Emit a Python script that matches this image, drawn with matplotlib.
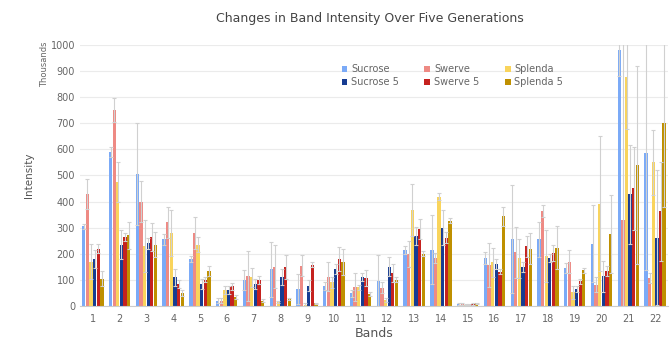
import numpy as np
import matplotlib.pyplot as plt

bands = list(range(1, 23))
series = ['Sucrose', 'Swerve', 'Splenda', 'Sucrose 5', 'Swerve 5', 'Splenda 5']
colors = ['#7baaf7', '#ee8a84', '#f9d45c', '#173c92', '#c5221f', '#bf9000']

sucrose = [305, 590, 505, 255, 180, 20, 100, 140, 65, 75, 48, 97, 213, 215, 8, 183, 258, 255, 145, 238, 980, 587]
swerve = [430, 750, 400, 320, 280, 20, 115, 150, 155, 112, 72, 70, 200, 183, 6, 158, 206, 363, 169, 82, 331, 108]
splenda = [170, 475, 230, 280, 235, 60, 110, 15, 5, 90, 72, 23, 367, 418, 5, 167, 183, 190, 53, 392, 877, 550]
sucrose5 = [180, 235, 240, 110, 85, 60, 85, 110, 78, 142, 110, 150, 268, 300, 6, 162, 149, 183, 65, 113, 428, 262]
swerve5 = [220, 265, 265, 85, 100, 75, 100, 150, 158, 180, 108, 126, 296, 262, 7, 131, 228, 203, 95, 133, 450, 363]
splenda5 = [105, 270, 235, 50, 135, 35, 20, 27, 10, 168, 46, 100, 200, 326, 10, 344, 219, 223, 136, 277, 540, 700]

err_sucrose = [10, 20, 195, 20, 10, 10, 38, 107, 58, 15, 15, 100, 15, 132, 4, 23, 207, 67, 20, 148, 100, 450]
err_swerve = [58, 46, 80, 60, 60, 10, 94, 82, 42, 56, 54, 20, 49, 20, 4, 84, 97, 23, 44, 28, 680, 20]
err_splenda = [68, 78, 98, 87, 30, 15, 36, 5, 5, 20, 10, 8, 100, 13, 3, 56, 75, 100, 25, 259, 200, 124]
err_sucrose5 = [33, 55, 20, 32, 20, 15, 20, 30, 20, 20, 15, 37, 35, 67, 3, 19, 20, 15, 10, 61, 189, 258]
err_swerve5 = [18, 15, 53, 15, 10, 12, 15, 47, 10, 46, 30, 36, 39, 20, 3, 10, 39, 29, 10, 20, 160, 190]
err_splenda5 = [30, 50, 48, 10, 20, 8, 5, 5, 3, 51, 8, 10, 10, 10, 3, 36, 60, 83, 10, 150, 378, 320]

values = [sucrose, swerve, splenda, sucrose5, swerve5, splenda5]
errors = [err_sucrose, err_swerve, err_splenda, err_sucrose5, err_swerve5, err_splenda5]

fig = plt.figure(figsize=(6.72, 3.4), dpi=100)
ax = fig.add_axes([0.119, 0.1, 0.875, 0.768])

x = np.arange(len(bands)) + 1
width = 0.135
handles = []
for i, (name, vals, errs) in enumerate(zip(series, values, errors)):
    pos = x + (i - 2.5) * width
    vals = np.array(vals, dtype=float)
    errs = np.array(errs, dtype=float)
    lower = np.minimum(errs, vals)
    h = ax.bar(pos, vals, width * 0.92, color=colors[i], label=name, zorder=2,
               yerr=[lower, errs],
               error_kw=dict(ecolor='#d0d0d0', elinewidth=0.8, capsize=1.5, capthick=0.8, zorder=3))
    handles.append(h)

ax.set_xlim(0.52, 22.48)
ax.set_ylim(0, 1000)
ax.set_yticks(range(0, 1001, 100))
ax.set_xticks(x)
ax.set_xticklabels([str(b) for b in bands])
ax.tick_params(axis='both', length=0, colors='#666666', labelsize=7)
ax.tick_params(axis='x', pad=6)
ax.grid(axis='y', color='#ebebeb', linewidth=0.8, zorder=0)
for s in ['top', 'right', 'left']:
    ax.spines[s].set_visible(False)
ax.spines['bottom'].set_color('#cccccc')

ax.set_xlabel('Bands', color='#555555', fontsize=9, labelpad=2)
ax.set_ylabel('Intensity', color='#555555', fontsize=7.5, labelpad=12)
fig.text(0.067, 0.81, 'Thousands', rotation=90, ha='center', va='center', color='#666666', fontsize=6)
fig.suptitle('Changes in Band Intensity Over Five Generations', x=0.55, y=0.965, fontsize=9, color='#444444')

order = [0, 3, 1, 4, 2, 5]
leg = ax.legend([handles[k] for k in order], [series[k] for k in order], ncol=3,
                loc='upper left', bbox_to_anchor=(0.43, 0.96), frameon=False, fontsize=7,
                handlelength=0.6, handleheight=0.6, handletextpad=0.4, columnspacing=2.6,
                labelspacing=0.35, labelcolor='#666666')

fig.savefig('out.png', dpi=100, facecolor='white')
